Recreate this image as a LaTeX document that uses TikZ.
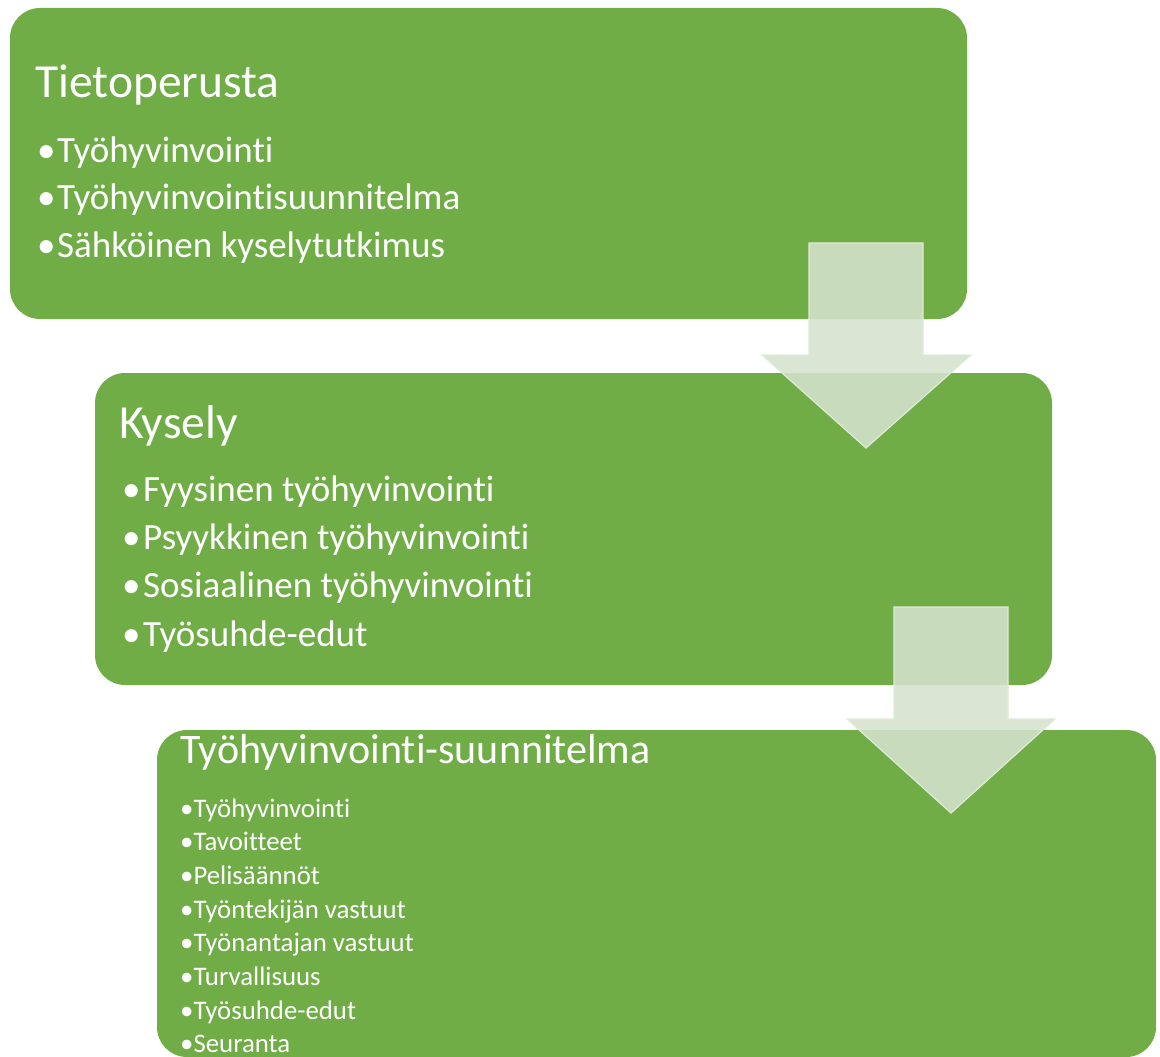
\documentclass[tikz,border=0pt]{standalone}
\usepackage{fontspec}
\setmainfont[Ligatures=NoCommon]{Carlito}
\definecolor{boxgreen}{RGB}{112,173,71}
\definecolor{arrowfill}{RGB}{213,226,205}
\definecolor{arrowline}{RGB}{224,234,218}
\tikzset{
  box/.style={fill=boxgreen, draw=none, rounded corners=30pt, inner sep=0pt},
  flowarrow/.style={fill=arrowfill, fill opacity=0.88, draw=arrowline, line width=1.2pt, line join=miter},
  txt/.style={anchor=base west, inner sep=0pt, text=white},
  title/.style={txt, font=\fontsize{47.5}{50}\selectfont},
  itemA/.style={txt, font=\fontsize{37}{40}\selectfont},
  itemC/.style={txt, font=\fontsize{26.8}{30}\selectfont},
}
\begin{document}
\begin{tikzpicture}[x=1pt, y=-1pt]
\useasboundingbox[fill=white] (0,0) rectangle (1160,1057);
% boxes
\node[box, minimum width=957pt, minimum height=311pt] (b1) at (488.5,163.5) {};
\node[box, minimum width=957pt, minimum height=312pt] (b2) at (573.5,529) {};
% arrow 1
\draw[flowarrow] (809,243) coordinate (a1) -- (923,243) -- (923,355) -- (971,355) -- (866,448) coordinate (a1tip) -- (762,355) -- (809,355) -- cycle;
\node[box, minimum width=999pt, minimum height=327pt] (b3) at (656.5,893.5) {};
% arrow 2
\draw[flowarrow] (894,607) coordinate (a2) -- (1008,607) -- (1008,719) -- (1055,719) -- (951,813) coordinate (a2tip) -- (847,719) -- (894,719) -- cycle;
% box 1 text
\node[title] (t1) at (35,97) {Tietoperusta};
\foreach \y/\t [count=\i] in {162/Työhyvinvointi, 209.5/Työhyvinvointisuunnitelma, 257/Sähköinen kyselytutkimus}{
  \node[itemA] (p1b\i) at (37,\y) {•};
  \node[itemA] (p1t\i) at (57,\y) {\t};
}
% box 2 text
\node[title] (t2) at (119,438) {Kysely};
\foreach \y/\t [count=\i] in {501/Fyysinen työhyvinvointi, 549/Psyykkinen työhyvinvointi, 597/Sosiaalinen työhyvinvointi, 646/Työsuhde-edut}{
  \node[itemA] (p2b\i) at (122,\y) {•};
  \node[itemA] (p2t\i) at (143,\y) {\t};
}
% box 3 text
\node[title, font=\fontsize{42}{45}\selectfont] (t3) at (180,763) {Työhyvinvointi-suunnitelma};
\foreach \t [count=\i] in {Työhyvinvointi, Tavoitteet, Pelisäännöt, Työntekijän vastuut, Työnantajan vastuut, Turvallisuus, Työsuhde-edut, Seuranta}{
  \pgfmathsetmacro{\yy}{817+33.7*(\i-1)}
  \node[itemC] (p3t\i) at (180,\yy) {•\t};
}
\end{tikzpicture}
\end{document}
